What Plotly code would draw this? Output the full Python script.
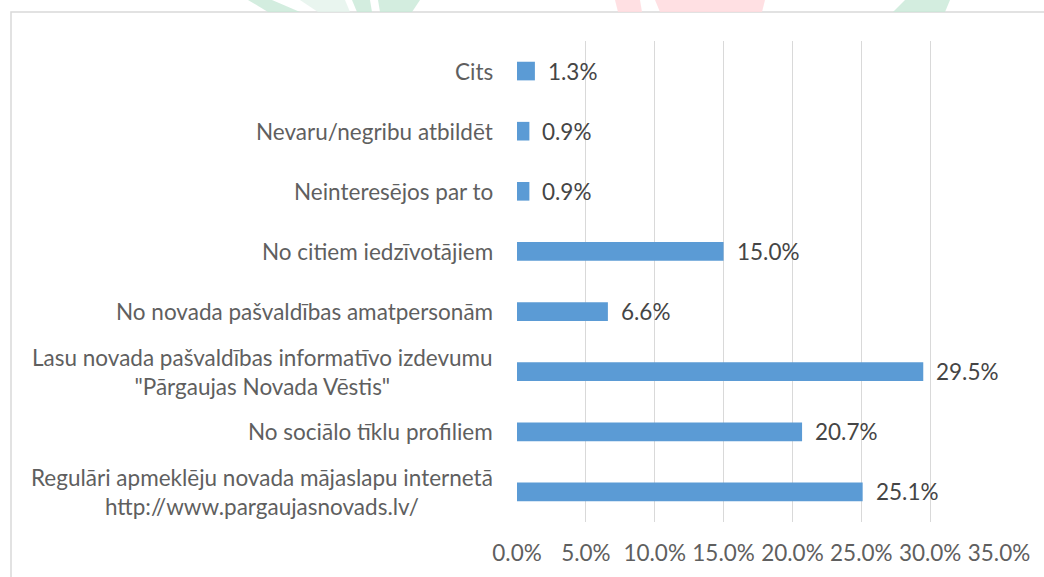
import plotly.graph_objects as go

categories = [
    "Cits",
    "Nevaru/negribu atbildēt",
    "Neinteresējos par to",
    "No citiem iedzīvotājiem",
    "No novada pašvaldības amatpersonām",
    "Lasu novada pašvaldības informatīvo izdevumu<br>\"Pārgaujas Novada Vēstis\"",
    "No sociālo tīklu profiliem",
    "Regulāri apmeklēju novada mājaslapu internetā<br>http://www.pargaujasnovads.lv/",
]
values = [1.3, 0.9, 0.9, 15.0, 6.6, 29.5, 20.7, 25.1]
x_ticks = [0, 5, 10, 15, 20, 25, 30, 35]
x_tick_labels = ["0.0%", "5.0%", "10.0%", "15.0%", "20.0%", "25.0%", "30.0%", "35.0%"]

FONT = "Lato"
FS = 22.5

fig = go.Figure()
fig.add_trace(go.Bar(
    y=categories, x=values, orientation="h",
    marker=dict(color="#5B9BD5", line=dict(width=0)),
    width=0.31, hoverinfo="skip",
))

annotations = []
for c, v in zip(categories, values):
    annotations.append(dict(
        x=v, y=c, xref="x", yref="y", text=f"{v:.1f}%", showarrow=False,
        xanchor="left", yanchor="middle", xshift=11,
        font=dict(family=FONT, size=FS, color="#454545"),
    ))
    annotations.append(dict(
        x=0, y=c, xref="paper", yref="y", text=c, showarrow=False,
        xanchor="right", yanchor="middle", xshift=-22, align="center",
        font=dict(family=FONT, size=FS, color="#5f5f5f"),
    ))

# chart area border (paper coords relative to plot area 517..999 x 41..522)
L, R, T, B = 517, 999, 41, 522
W, H = R - L, B - T
def px(x):
    return (x - L) / W
def py(y):
    return 1 - (y - T) / H

shapes = [dict(
    type="rect", xref="paper", yref="paper",
    x0=px(11), x1=px(1060), y0=py(600), y1=py(12),
    line=dict(color="#D9D9D9", width=1.5), fillcolor="rgba(0,0,0,0)", layer="below",
)]

# faint watermark fragments above the chart border
def poly(points, color):
    path = "M " + " L ".join(f"{px(x)},{py(y)}" for x, y in points) + " Z"
    return dict(type="path", xref="paper", yref="paper", path=path,
                fillcolor=color, line=dict(width=0), layer="below")

green = "rgba(200,232,215,0.8)"
red = "rgba(255,218,222,0.85)"
shapes += [
    poly([(248, 0), (272, 0), (300, 12), (268, 12)], green),
    poly([(300, 0), (345, 0), (350, 12), (318, 12)], "rgba(228,243,235,0.8)"),
    poly([(352, 0), (370, 0), (372, 12), (357, 12)], green),
    poly([(378, 0), (420, 0), (412, 12), (380, 12)], green),
    poly([(615, 0), (640, 0), (642, 12), (618, 12)], red),
    poly([(655, 0), (700, 0), (700, 12), (660, 12)], red),
    poly([(700, 0), (765, 0), (762, 12), (700, 12)], red),
    poly([(905, 0), (950, 0), (945, 12), (893, 12)], green),
]

fig.update_layout(
    width=1044, height=577,
    margin=dict(l=L, r=1044 - R, t=T, b=577 - B),
    paper_bgcolor="white", plot_bgcolor="white",
    showlegend=False,
    bargap=0.69,
    xaxis=dict(
        range=[0, 35], tickmode="array", tickvals=x_ticks, ticktext=x_tick_labels,
        showgrid=True, gridcolor="#D9D9D9", gridwidth=1.3,
        zeroline=False, showline=False, ticks="",
        ticklabelstandoff=15,
        tickfont=dict(family=FONT, size=FS, color="#5f5f5f"),
        fixedrange=True,
    ),
    yaxis=dict(
        autorange="reversed", showticklabels=False, showgrid=False,
        zeroline=False, showline=False, ticks="", fixedrange=True,
    ),
    annotations=annotations,
    shapes=shapes,
)

fig.write_html("out.html")
